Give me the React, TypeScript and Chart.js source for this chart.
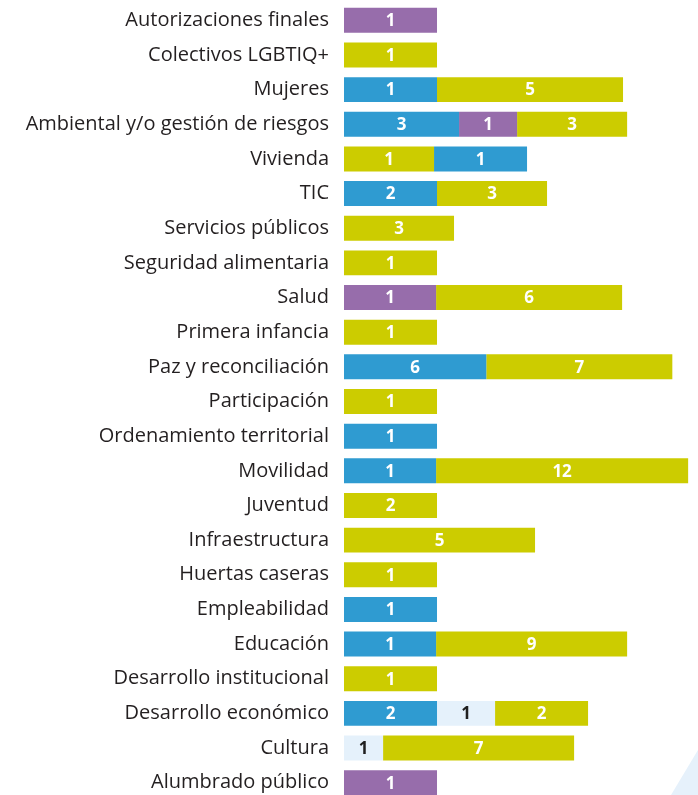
import React, { useEffect, useRef } from "react";
import { Chart, registerables } from "chart.js";

Chart.register(...registerables);

const categories = [
  "Autorizaciones finales",
  "Colectivos LGBTIQ+",
  "Mujeres",
  "Ambiental y/o gestión de riesgos",
  "Vivienda",
  "TIC",
  "Servicios públicos",
  "Seguridad alimentaria",
  "Salud",
  "Primera infancia",
  "Paz y reconciliación",
  "Participación",
  "Ordenamiento territorial",
  "Movilidad",
  "Juventud",
  "Infraestructura",
  "Huertas caseras",
  "Empleabilidad",
  "Educación",
  "Desarrollo institucional",
  "Desarrollo económico",
  "Cultura",
  "Alumbrado público",
];

// Segment 1 (leftmost)
const seg1Length = [1.0, 1.0, 1.0, 1.237, 0.968, 1.0, 1.183, 1.0, 0.99, 1.0, 1.53, 1.0, 1.0, 0.99, 1.0, 2.054, 1.0, 1.0, 0.99, 1.0, 1.0, 0.42, 1.0];
const seg1Count = [1, 1, 1, 3, 1, 2, 3, 1, 1, 1, 6, 1, 1, 1, 2, 5, 1, 1, 1, 1, 2, 1, 1];
const seg1Group = ["P", "Y", "B", "B", "Y", "B", "Y", "Y", "P", "Y", "B", "Y", "B", "B", "Y", "Y", "Y", "B", "B", "Y", "B", "L", "P"];

// Segment 2 (middle)
const seg2Length = [null, null, 2.0, 0.624, 1.0, 1.183, null, null, 2.0, null, 2.0, null, null, 2.71, null, null, null, null, 2.054, null, 0.624, 2.054, null];
const seg2Count = [null, null, 5, 1, 1, 3, null, null, 6, null, 7, null, null, 12, null, null, null, null, 9, null, 1, 7, null];
const seg2Group = ["", "", "Y", "P", "B", "Y", "", "", "Y", "", "Y", "", "", "Y", "", "", "", "", "Y", "", "L", "Y", ""];

// Segment 3 (rightmost)
const seg3Length = [null, null, null, 1.183, null, null, null, null, null, null, null, null, null, null, null, null, null, null, null, null, 1.0, null, null];
const seg3Count = [null, null, null, 3, null, null, null, null, null, null, null, null, null, null, null, null, null, null, null, null, 2, null, null];
const seg3Group = ["", "", "", "Y", "", "", "", "", "", "", "", "", "", "", "", "", "", "", "", "", "Y", "", ""];

const groupColor: Record<string, string> = {
  P: "#976dab",
  Y: "#cccc00",
  B: "#2f9bd1",
  L: "#e5f1fb",
  "": "rgba(0,0,0,0)",
};
const groupTextColor: Record<string, string> = {
  P: "#ffffff",
  Y: "#ffffff",
  B: "#ffffff",
  L: "#1f1f1f",
  "": "#ffffff",
};

const counts = [seg1Count, seg2Count, seg3Count];
const groups = [seg1Group, seg2Group, seg3Group];

const valueLabelPlugin = {
  id: "valueLabels",
  afterDatasetsDraw(chart: any) {
    const ctx = chart.ctx;
    ctx.save();
    ctx.font = "bold 17px 'Open Sans', sans-serif";
    ctx.textAlign = "center";
    ctx.textBaseline = "middle";
    chart.data.datasets.forEach((ds: any, di: number) => {
      const meta = chart.getDatasetMeta(di);
      meta.data.forEach((el: any, i: number) => {
        const c = counts[di][i];
        if (c === null || c === undefined) return;
        const p = el.getProps(["x", "y", "base"], true);
        ctx.fillStyle = groupTextColor[groups[di][i]];
        ctx.fillText(String(c), (p.x + p.base) / 2, p.y + 1);
      });
    });
    ctx.restore();
  },
};

export default function App() {
  const ref = useRef<HTMLCanvasElement>(null);

  useEffect(() => {
    document.body.style.margin = "0";
    document.body.style.overflow = "hidden";
    const lengths = [seg1Length, seg2Length, seg3Length];
    const chart = new Chart(ref.current!, {
      type: "bar",
      data: {
        labels: categories,
        datasets: lengths.map((arr, di) => ({
          label: "Segmento " + (di + 1),
          data: arr as any,
          backgroundColor: groups[di].map((g) => groupColor[g]),
          borderWidth: 0,
          barPercentage: 0.72,
          categoryPercentage: 1,
        })),
      },
      options: {
        indexAxis: "y",
        responsive: false,
        animation: false,
        layout: { padding: { top: 3, left: 0, right: 0, bottom: 0 } },
        plugins: {
          legend: { display: false },
          tooltip: { enabled: false },
        },
        scales: {
          x: {
            stacked: true,
            display: false,
            min: 0,
            max: 3.806,
          },
          y: {
            stacked: true,
            afterFit: (scale: any) => {
              scale.width = 344;
              scale.paddingTop = 0;
              scale.paddingBottom = 0;
            },
            grid: { display: false, drawTicks: false },
            border: { display: false },
            ticks: {
              padding: 15,
              color: "#231f20",
              font: { family: "'Open Sans', sans-serif", size: 20 },
            },
          },
        },
      },
      plugins: [valueLabelPlugin],
    });
    return () => chart.destroy();
  }, []);

  return (
    <div style={{ position: "relative", width: 698, height: 795, overflow: "hidden", background: "#ffffff" }}>
      <div
        style={{
          position: "absolute",
          left: 671,
          top: 750,
          width: 27,
          height: 45,
          background: "#e6f1fb",
          clipPath: "polygon(0% 100%, 100% 0%, 100% 100%)",
        }}
      />
      <canvas ref={ref} width={698} height={800} style={{ position: "absolute", left: 0, top: 0, display: "block" }} />
    </div>
  );
}
